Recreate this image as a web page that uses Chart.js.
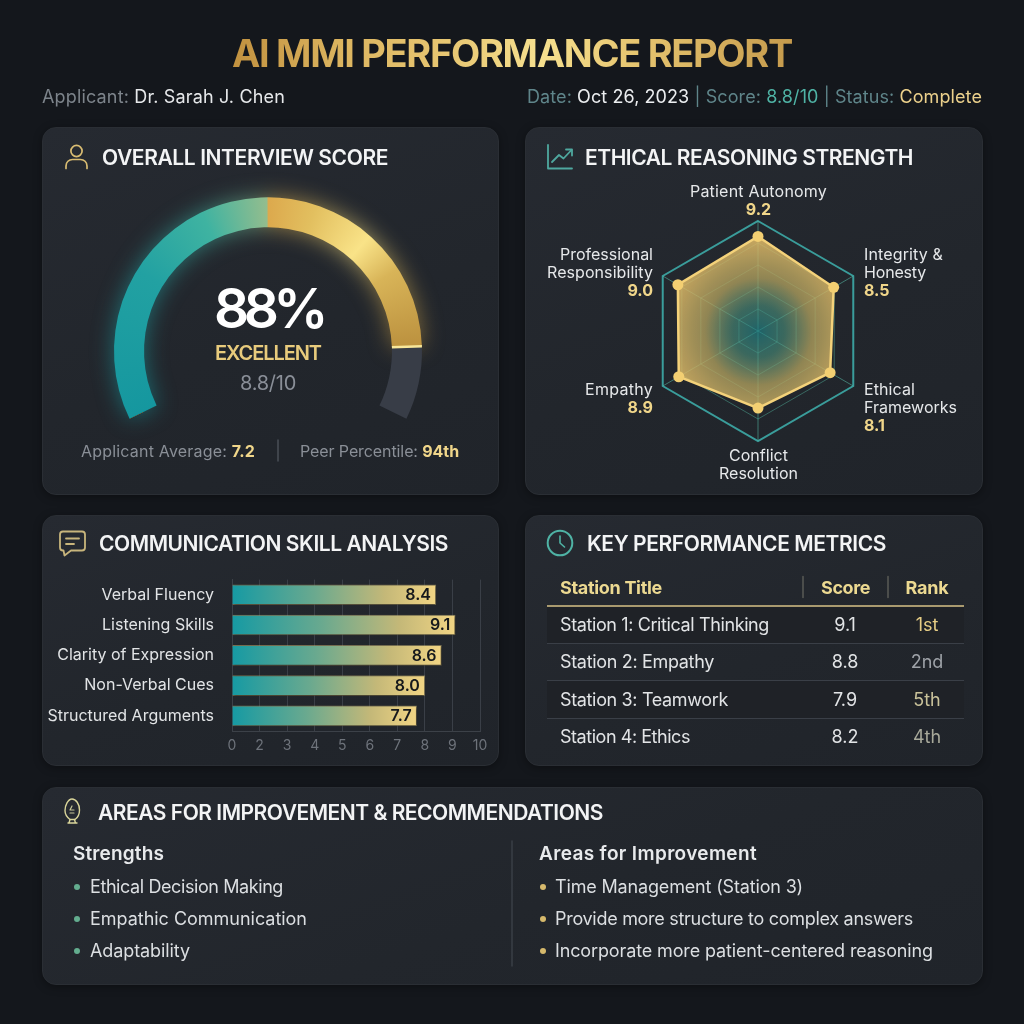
<!DOCTYPE html>
<html lang="en">
<head>
<meta charset="utf-8">
<title>AI MMI Performance Report</title>
<script src="https://cdn.jsdelivr.net/npm/chart.js@4/dist/chart.umd.js"></script>
<style>
  html, body { margin: 0; padding: 0; width: 1024px; height: 1024px; overflow: hidden; background: #14171c; }
  body { position: relative; font-family: Inter, "Noto Sans", sans-serif; }
  .card { position: absolute; box-sizing: border-box; border-radius: 14px; border: 1px solid #2a2e34;
          background: linear-gradient(160deg, #262a31 0%, #22262c 55%, #20242a 100%);
          box-shadow: 0 2px 8px rgba(0,0,0,.35); }
  canvas { position: absolute; }
  .t { position: absolute; white-space: nowrap; line-height: 1; }
  .box { position: absolute; }
  svg { position: absolute; left: 0; top: 0; }
</style>
</head>
<body>
<div class="card" style="left:42px;top:127px;width:457px;height:368px"></div>
<div class="card" style="left:525px;top:127px;width:458px;height:368px"></div>
<div class="card" style="left:42px;top:515px;width:457px;height:251px"></div>
<div class="card" style="left:525px;top:515px;width:458px;height:251px"></div>
<div class="card" style="left:42px;top:787px;width:941px;height:198px"></div>

<canvas id="gauge" width="456" height="320" style="left:40px;top:148px"></canvas>
<canvas id="radar" width="467" height="313" style="left:525px;top:175px"></canvas>
<canvas id="bars" width="456" height="200" style="left:42px;top:560px"></canvas>

<svg width="1024" height="1024" fill="none" stroke-linecap="round" stroke-linejoin="round">
  <!-- person -->
  <g stroke="#d9bc72" stroke-width="1.7">
    <circle cx="76.5" cy="151" r="5.6"/>
    <path d="M66 168.500v-2.500c0-4 3-6.500 6.500-6.500h8c3.500 0 6.500 2.500 6.500 6.500v2.500"/>
  </g>
  <!-- trend chart -->
  <g stroke="#4fa89f" stroke-width="1.8">
    <path d="M548 145v23.500h24"/>
    <path d="M552 162l7-7 4.500 3.500 8-8.500"/>
    <path d="M566 149.500h6v6"/>
  </g>
  <!-- speech bubble -->
  <g stroke="#c8b57c" stroke-width="1.8">
    <path d="M63 531.500h19a3 3 0 0 1 3 3v13a3 3 0 0 1-3 3H71l-6.500 5-1-5H63a3 3 0 0 1-3-3v-13a3 3 0 0 1 3-3z"/>
    <path d="M66 538.500h13M66 544h8"/>
  </g>
  <!-- clock -->
  <g stroke="#4fb3a5" stroke-width="2">
    <circle cx="560" cy="543" r="12.300"/>
    <path d="M560 536v7l4.500 4" stroke-width="1.600"/>
  </g>
  <!-- idea bulb -->
  <g stroke="#d9d59a" stroke-width="1.400">
    <path d="M72 799c4 0 7.500 5 7.500 11s-3 8.500-4.500 9.500h-5c-2-1.500-5-4-5-9s3-11.500 7-11.500z"/>
    <path d="M68 823h9M70 819.500l-1 3.500M74.500 819.500l1 3.500"/>
    <path d="M72 806l-2 4h4M70 813h4" stroke="#c8c89a" stroke-width="1.200"/>
  </g>
  <!-- dividers -->
  <path d="M278 440v21" stroke="#4a4f57" stroke-width="1.500"/>
  <path d="M803 576.500v21M888 576.500v21" stroke="#5a5b55" stroke-width="1.500"/>
  <path d="M512 841v125" stroke="#3a3f46" stroke-width="1.500"/>
</svg>

<script>
// ---- report content ----
const overallScore = 88;
const gaugeRemainder = [overallScore, 100 - overallScore];

const radarAxes = ['Patient Autonomy', 'Integrity & Honesty', 'Ethical Frameworks',
                   'Conflict Resolution', 'Empathy', 'Professional Responsibility'];
const radarValues = [9.2, 8.5, 8.1, 7.5, 8.9, 9.0];

const skillNames = ['Verbal Fluency', 'Listening Skills', 'Clarity of Expression',
                    'Non-Verbal Cues', 'Structured Arguments'];
const skillValues = [8.4, 9.1, 8.6, 8.0, 7.7];
const skillTickLabels = ['0', '2', '3', '4', '5', '6', '7', '8', '9', '10'];

const stationTitles = ['Station 1: Critical Thinking', 'Station 2: Empathy',
                       'Station 3: Teamwork', 'Station 4: Ethics'];
const stationScores = ['9.1', '8.8', '7.9', '8.2'];
const stationRanks = ['1st', '2nd', '5th', '4th'];
const rankColours = ['#e6cd85', '#9ea2a8', '#c9c29a', '#a8a99a'];

const strengths = ['Ethical Decision Making', 'Empathic Communication', 'Adaptability'];
const improvements = ['Time Management (Station 3)', 'Provide more structure to complex answers',
                      'Incorporate more patient-centered reasoning'];

// ---- text helper: places a line by its vertical centre, tracking it to a set width ----
function T(html, o) {
  const e = document.createElement('div');
  e.className = 't';
  e.innerHTML = html;
  e.style.fontSize = o.s + 'px';
  e.style.fontWeight = o.wt || 400;
  e.style.color = o.col || '#e2e4e6';
  e.style.top = o.y + 'px';
  let tx = 0;
  if (o.grad) {
    e.style.background = o.grad;
    e.style.webkitBackgroundClip = 'text';
    e.style.backgroundClip = 'text';
    e.style.color = 'transparent';
  }
  document.body.appendChild(e);
  if (o.w) {
    const n = e.textContent.length;
    const cur = e.getBoundingClientRect().width;
    e.style.letterSpacing = ((o.w - cur) / n) + 'px';
    const left = o.l !== undefined ? o.l : o.r !== undefined ? o.r - o.w : o.c - o.w / 2;
    e.style.left = left + 'px';
  } else {
    if (o.l !== undefined) e.style.left = o.l + 'px';
    if (o.r !== undefined) { e.style.left = o.r + 'px'; tx = -100; }
    if (o.c !== undefined) { e.style.left = o.c + 'px'; tx = -50; }
  }
  e.style.transform = 'translate(' + tx + '%,-50%)';
  return e;
}
function box(l, t, w, h, bg) {
  const e = document.createElement('div');
  e.className = 'box';
  e.style.cssText += `left:${l}px;top:${t}px;width:${w}px;height:${h}px;background:${bg}`;
  document.body.appendChild(e);
  return e;
}
const sp = (c, s, extra) => `<span style="color:${c};${extra || ''}">${s}</span>`;
const HEAD = { s: 21, wt: 600, col: '#f3f4f5' };

// ---- page header ----
T('AI MMI PERFORMANCE REPORT', { l: 232, w: 560, y: 53, s: 38, wt: 700,
  grad: 'linear-gradient(90deg,#c1913f 0%,#dcb560 20%,#e8c874 40%,#f6e08f 55%,#e6c570 72%,#c59a4c 100%)' });
T(sp('#7d848b', 'Applicant: ') + sp('#e6e8ea', 'Dr. Sarah J. Chen'), { l: 42, w: 243, y: 97, s: 18 });
T(sp('#5f858a', 'Date: ') + sp('#eceef0', 'Oct 26, 2023') + sp('#5f858a', ' | Score: ') + sp('#4fb3a5', '8.8/10')
  + sp('#5f858a', ' | Status: ') + sp('#ecd18c', 'Complete'), { l: 527, w: 455, y: 97, s: 18 });

// ---- card headings ----
T('OVERALL INTERVIEW SCORE', { ...HEAD, l: 102, w: 286, y: 157 });
T('ETHICAL REASONING STRENGTH', { ...HEAD, l: 585, w: 328, y: 157 });
T('COMMUNICATION SKILL ANALYSIS', { ...HEAD, l: 99, w: 349, y: 543 });
T('KEY PERFORMANCE METRICS', { ...HEAD, l: 587, w: 299, y: 543 });
T('AREAS FOR IMPROVEMENT &amp; RECOMMENDATIONS', { ...HEAD, l: 98, w: 505, y: 812 });

// ---- gauge captions ----
T(overallScore + '%', { c: 268.5, w: 109, y: 308, s: 55, wt: 600, col: '#ffffff' });
T('EXCELLENT', { c: 268, w: 106, y: 353, s: 20, wt: 600, col: '#e8cb7c' });
T('8.8/10', { c: 268, w: 56, y: 383, s: 20, col: '#8a8f98' });
T(sp('#8a8f97', 'Applicant Average: ') + sp('#f0d68a', '7.2', 'font-weight:700'), { l: 81, w: 174, y: 451, s: 16 });
T(sp('#8a8f97', 'Peer Percentile: ') + sp('#f0d68a', '94th', 'font-weight:700'), { l: 300, w: 159, y: 451, s: 16 });

// ---- radar captions ----
const RAD = { s: 16, col: '#e6e8ea' };
const VAL = { s: 16, wt: 700, col: '#f0d68a' };
T(radarAxes[0], { ...RAD, c: 758.5, w: 137, y: 191 });
T(radarValues[0].toFixed(1), { ...VAL, c: 758.5, y: 209 });
T('Integrity &amp;', { ...RAD, l: 864, w: 79, y: 254 });
T('Honesty', { ...RAD, l: 864, w: 62, y: 272 });
T(radarValues[1].toFixed(1), { ...VAL, l: 864, y: 290 });
T('Ethical', { ...RAD, l: 864, w: 51, y: 389 });
T('Frameworks', { ...RAD, l: 864, w: 93, y: 407 });
T(radarValues[2].toFixed(1), { ...VAL, l: 864, y: 425 });
T('Conflict', { ...RAD, c: 758.5, w: 59, y: 455 });
T('Resolution', { ...RAD, c: 758.5, w: 79, y: 473 });
T(radarAxes[4], { ...RAD, r: 653, w: 68, y: 389 });
T(radarValues[4].toFixed(1), { ...VAL, r: 653, y: 407 });
T('Professional', { ...RAD, r: 653, w: 93, y: 254 });
T('Responsibility', { ...RAD, r: 653, w: 106, y: 272 });
T(radarValues[5].toFixed(1), { ...VAL, r: 653, y: 290 });

// ---- station table ----
T('Station Title', { l: 560, w: 102, y: 588, s: 18, wt: 700, col: '#ecd991' });
T('Score', { c: 845.5, w: 49, y: 588, s: 18, wt: 700, col: '#ecd991' });
T('Rank', { c: 927, w: 43, y: 588, s: 18, wt: 700, col: '#ecd991' });
box(547, 607, 417, 36, '#1f2227');
box(547, 681, 417, 37, '#1f2227');
box(547, 605, 417, 2, '#a99a6f');
[643, 680, 718].forEach(y => box(547, y, 417, 1, '#3a3f47'));
const rowCentres = [625, 662, 700, 737];
const rowWidths = [209, 154, 168, 130];
stationTitles.forEach((name, i) => {
  T(name, { l: 560, w: rowWidths[i], y: rowCentres[i], s: 18 });
  T(stationScores[i], { c: 845, y: rowCentres[i], s: 18 });
  T(stationRanks[i], { c: 927, y: rowCentres[i], s: 18, col: rankColours[i] });
});

// ---- recommendations ----
T('Strengths', { l: 73, w: 91, y: 853, s: 19, wt: 600, col: '#e8eaec' });
T('Areas for Improvement', { l: 539, w: 218, y: 853, s: 19, wt: 600, col: '#e8eaec' });
const listCentres = [886.5, 918.5, 951];
const strengthWidths = [193, 217, 100];
const improvementWidths = [248, 358, 378];
strengths.forEach((s, i) => {
  const d = box(74, listCentres[i] - 3, 6, 6, '#63ad8f'); d.style.borderRadius = '50%';
  T(s, { l: 90, w: strengthWidths[i], y: listCentres[i], s: 18, col: '#dcdfe2' });
});
improvements.forEach((s, i) => {
  const d = box(539.5, listCentres[i] - 3, 6, 6, '#d6b96c'); d.style.borderRadius = '50%';
  T(s, { l: 555, w: improvementWidths[i], y: listCentres[i], s: 18, col: '#dcdfe2' });
});

// ---- gauge ----
const GAUGE_RADIUS = 154;
const GAUGE_SWEEP = 232;
const GAUGE_START = -116;
const gaugeDrop = 0.281 * GAUGE_RADIUS;   // the doughnut shifts its centre for a partial sweep

const gaugePlugin = {
  id: 'gaugeGlow',
  beforeDatasetsDraw(chart) {
    const arc = chart.getDatasetMeta(0).data[0];
    const ctx = chart.ctx;
    ctx.save();
    ctx.filter = 'blur(11px)';
    ctx.globalAlpha = 0.6;
    arc.draw(ctx);
    ctx.restore();
  },
  afterDatasetsDraw(chart) {
    const arc = chart.getDatasetMeta(0).data[0];
    const ctx = chart.ctx;
    const a = arc.endAngle;
    ctx.save();
    ctx.strokeStyle = '#f8e79a';
    ctx.lineWidth = 2.5;
    ctx.beginPath();
    ctx.moveTo(arc.x + Math.cos(a) * arc.innerRadius, arc.y + Math.sin(a) * arc.innerRadius);
    ctx.lineTo(arc.x + Math.cos(a) * arc.outerRadius, arc.y + Math.sin(a) * arc.outerRadius);
    ctx.stroke();
    ctx.restore();
  }
};

new Chart(document.getElementById('gauge'), {
  type: 'doughnut',
  data: {
    labels: ['Score', 'Remaining'],
    datasets: [{
      data: gaugeRemainder,
      borderWidth: 0,
      backgroundColor(c) {
        if (c.dataIndex === 1) return '#383d47';
        const start = (GAUGE_START - 90) * Math.PI / 180;
        const g = c.chart.ctx.createConicGradient(start, c.chart.width / 2, c.chart.height / 2 + gaugeDrop);
        const top = 116 / 360;
        g.addColorStop(0, '#15979f');
        g.addColorStop(top * 0.5, '#22a1a2');
        g.addColorStop(top * 0.78, '#3fb3a1');
        g.addColorStop(top - 0.001, '#93bd8e');
        g.addColorStop(top, '#dca94d');
        g.addColorStop(top + 0.05, '#e2bf5f');
        g.addColorStop(top + 0.115, '#f9e388');
        g.addColorStop(top + 0.16, '#d8b458');
        g.addColorStop(top + 0.24, '#bd9340');
        g.addColorStop(1, '#bd9340');
        return g;
      }
    }]
  },
  options: {
    responsive: false,
    animation: false,
    rotation: GAUGE_START,
    circumference: GAUGE_SWEEP,
    radius: GAUGE_RADIUS,
    cutout: '80.5%',
    plugins: { legend: { display: false }, tooltip: { enabled: false } }
  },
  plugins: [gaugePlugin]
});

// ---- radar ----
const RADAR_MAX = 10.7;
new Chart(document.getElementById('radar'), {
  type: 'radar',
  data: {
    labels: radarAxes,
    datasets: [{
      data: radarValues,
      borderColor: '#f4d27a',
      borderWidth: 2.5,
      pointRadius: 5.5,
      pointBackgroundColor: '#f3cf72',
      pointBorderWidth: 0,
      backgroundColor(c) {
        const { width, height } = c.chart;
        const g = c.chart.ctx.createRadialGradient(width / 2, height / 2, 0, width / 2, height / 2, 92);
        g.addColorStop(0, 'rgba(30,125,130,.7)');
        g.addColorStop(0.28, 'rgba(75,145,125,.62)');
        g.addColorStop(0.58, 'rgba(175,160,95,.78)');
        g.addColorStop(1, 'rgba(226,188,104,.85)');
        return g;
      }
    }]
  },
  options: {
    responsive: false,
    animation: false,
    layout: { padding: { top: 46.5, bottom: 46.5 } },
    scales: {
      r: {
        min: 0,
        max: RADAR_MAX,
        ticks: { display: false, stepSize: RADAR_MAX / 5 },
        pointLabels: { display: false },
        angleLines: { color: 'rgba(90,190,170,.55)', lineWidth: 1 },
        grid: {
          color: c => c.tick.value > RADAR_MAX - 0.1 ? '#3a9d9b' : 'rgba(80,170,150,.5)',
          lineWidth: c => c.tick.value > RADAR_MAX - 0.1 ? 2 : 1
        }
      }
    },
    plugins: { legend: { display: false }, tooltip: { enabled: false } }
  }
});

// ---- skill bars ----
const barPlugin = {
  id: 'barDressing',
  beforeDatasetsDraw(chart) {
    const ctx = chart.ctx;
    ctx.save();
    ctx.shadowColor = 'rgba(0,0,0,.65)';
    ctx.shadowBlur = 3;
    ctx.shadowOffsetX = 1;
    ctx.shadowOffsetY = 1;
  },
  afterDatasetsDraw(chart) {
    const ctx = chart.ctx;
    ctx.restore();
    ctx.save();
    ctx.font = '600 16px Inter, sans-serif';
    ctx.fillStyle = '#15181c';
    ctx.textAlign = 'right';
    ctx.textBaseline = 'middle';
    chart.getDatasetMeta(0).data.forEach((bar, i) => {
      ctx.fillText(skillValues[i].toFixed(1), bar.x - 5, bar.y + 0.5);
    });
    ctx.restore();
  }
};

new Chart(document.getElementById('bars'), {
  type: 'bar',
  data: {
    labels: skillNames,
    datasets: [{
      data: skillValues,
      base: 1,
      barThickness: 20,
      borderWidth: 1,
      borderColor: 'rgba(238,214,140,.45)',
      backgroundColor(c) {
        const x = c.chart.scales.x;
        const left = x ? x.left : NaN;
        const right = x && c.raw !== undefined ? x.getPixelForValue(c.raw) : NaN;
        if (!Number.isFinite(left) || !Number.isFinite(right)) return '#7fb08f';
        const g = c.chart.ctx.createLinearGradient(left, 0, right, 0);
        g.addColorStop(0, '#169aa3');
        g.addColorStop(0.4, '#69a98f');
        g.addColorStop(0.75, '#c4b878');
        g.addColorStop(1, '#f2d584');
        return g;
      }
    }]
  },
  options: {
    indexAxis: 'y',
    responsive: false,
    animation: false,
    layout: { padding: { top: 11, right: 18, bottom: 0, left: 0 } },
    scales: {
      // the printed axis runs 0, 2, 3 ... 10 at even spacing, so its first step sits at 1
      x: {
        min: 1,
        max: 10,
        afterFit(a) { a.height = 29; },
        ticks: {
          stepSize: 1,
          autoSkip: false,
          maxRotation: 0,
          padding: 6,
          color: '#6e737b',
          font: { family: 'Inter', size: 14 },
          callback: (v, i) => skillTickLabels[i]
        },
        grid: { color: '#3a3f47', lineWidth: 1, drawTicks: false },
        border: { color: '#3c4148' }
      },
      y: {
        afterFit(a) { a.width = 190; },
        ticks: {
          padding: 10,
          color: '#e2e4e6',
          font: { family: 'Inter', size: 16 }
        },
        grid: { display: false },
        border: { color: '#3c4148' }
      }
    },
    plugins: { legend: { display: false }, tooltip: { enabled: false } }
  },
  plugins: [barPlugin]
});
</script>
</body>
</html>
